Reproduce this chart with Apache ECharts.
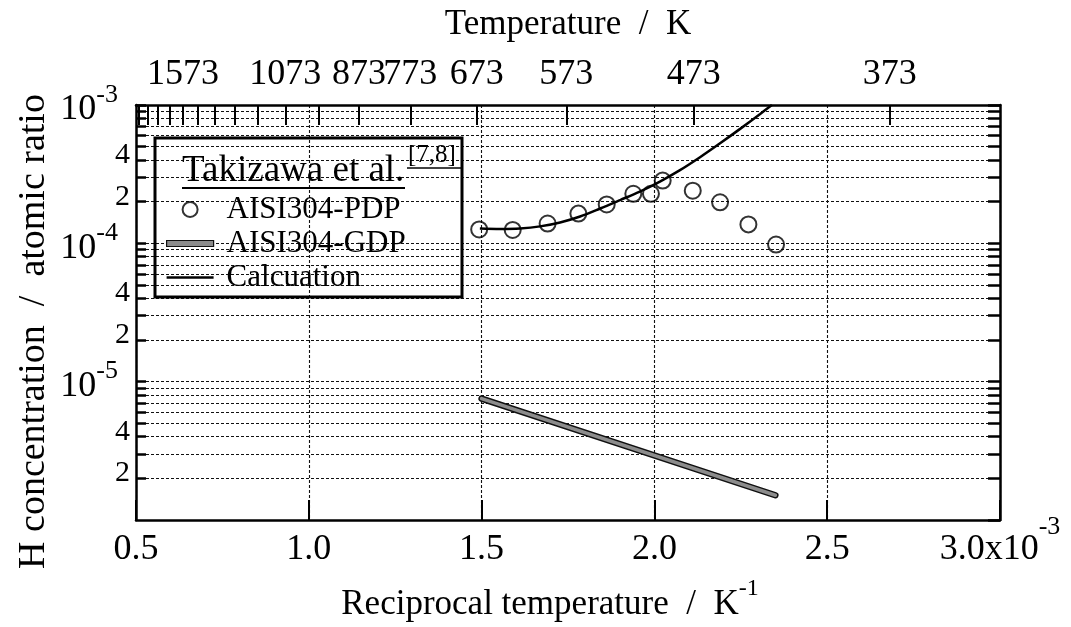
<!DOCTYPE html>
<html>
<head>
<meta charset="utf-8">
<script src="https://cdn.jsdelivr.net/npm/echarts@6/dist/echarts.min.js"></script>
<style>
html, body { margin: 0; padding: 0; background: #fff; }
#chart { width: 1071px; height: 627px; }
</style>
</head>
<body>
<div id="chart"></div>
<script>
// Reciprocal temperature in 10^-3 K^-1, H concentration as atomic ratio
const pdpX = [1.493, 1.590, 1.691, 1.780, 1.862, 1.939, 1.990, 2.024, 2.111, 2.190, 2.272, 2.352];
const pdpY = [1.26e-4, 1.25e-4, 1.39e-4, 1.64e-4, 1.91e-4, 2.28e-4, 2.28e-4, 2.84e-4, 2.40e-4, 1.98e-4, 1.37e-4, 0.98e-4];

const gdpX = [1.50, 2.35];
const gdpY = [7.55e-6, 1.51e-6];

const calcX = [1.495, 1.553, 1.611, 1.669, 1.727, 1.785, 1.843, 1.901, 1.958, 2.016, 2.074, 2.132, 2.190, 2.248, 2.306, 2.340];
const calcY = [1.282e-4, 1.272e-4, 1.282e-4, 1.326e-4, 1.416e-4, 1.564e-4, 1.786e-4, 2.056e-4, 2.366e-4, 2.793e-4, 3.379e-4, 4.191e-4, 5.284e-4, 6.721e-4, 8.617e-4, 1.0e-3];

// bottom axis ticks (10^-3 K^-1)
const recipTicks = [0.5, 1.0, 1.5, 2.0, 2.5, 3.0];
// top axis: temperatures (K) with tick marks, and the labelled ones
const tempTicks = [1973, 1873, 1773, 1673, 1573, 1473, 1373, 1273, 1173, 1073, 973, 873, 773, 673, 573, 473, 373];
const tempLabels = [1573, 1073, 873, 773, 673, 573, 473, 373];
// left axis: decades and mantissas for ticks / grid, labelled values
const decades = [-6, -5, -4];
const mantissas = [1, 2, 3, 4, 5, 6, 7, 8, 9];
const concLabels = [1e-6, 2e-6, 4e-6, 1e-5, 2e-5, 4e-5, 1e-4, 2e-4, 4e-4, 1e-3];

const FONT = '"Liberation Serif", "DejaVu Serif", serif';

const pairs = (xs, ys) => xs.map((x, i) => [x, ys[i]]);
const log10 = v => Math.log10(v);

const concTicks = [];
decades.forEach(d => mantissas.forEach(m => concTicks.push(log10(m * Math.pow(10, d)))));
concTicks.push(-3);

const chart = echarts.init(document.getElementById('chart'), null, { renderer: 'canvas' });

const axisLineStyle = { color: '#000', width: 2.5 };
const gridDash = { color: '#111', width: 1.1, type: [3, 2] };

chart.setOption({
  animation: false,
  backgroundColor: '#fff',
  textStyle: { fontFamily: FONT, color: '#000' },
  grid: { left: 136, right: 71, top: 105, bottom: 105, containLabel: false },
  xAxis: [
    {
      type: 'value', position: 'bottom', min: 0.5, max: 3.0, interval: 0.5,
      axisLine: { show: true, onZero: false, lineStyle: axisLineStyle },
      axisTick: { show: true, inside: true, length: 20, lineStyle: { color: '#000', width: 2 } },
      splitLine: { show: true, lineStyle: gridDash },
      axisLabel: {
        margin: 3,
        formatter: v => {
          const i = recipTicks.findIndex(t => Math.abs(t - v) < 1e-9);
          const txt = recipTicks[i].toFixed(1);
          return i === recipTicks.length - 1 ? '{n|' + txt + 'x10}{s|-3}' : '{n|' + txt + '}';
        },
        rich: {
          n: { fontFamily: FONT, fontSize: 36, lineHeight: 36, color: '#000', padding: [17, 0, 0, 0] },
          s: { fontFamily: FONT, fontSize: 26, lineHeight: 26, color: '#000', padding: [0, 0, 27, 0] }
        }
      },
      name: '{a|Reciprocal temperature  /  K}{s|-1}',
      nameLocation: 'middle', nameGap: 62,
      nameTextStyle: {
        rich: {
          a: { fontFamily: FONT, fontSize: 35, lineHeight: 35, color: '#000', padding: [10, 0, 0, 0] },
          s: { fontFamily: FONT, fontSize: 24, lineHeight: 24, color: '#000', padding: [0, 36, 21, 0] }
        }
      }
    },
    {
      type: 'value', position: 'top', min: 0.5, max: 3.0,
      axisLine: { show: true, onZero: false, lineStyle: axisLineStyle },
      axisTick: {
        show: true, inside: true, length: 20, lineStyle: { color: '#000', width: 2 },
        customValues: tempTicks.map(T => 1000 / T)
      },
      splitLine: { show: false },
      axisLabel: {
        margin: 12, fontFamily: FONT, fontSize: 36, color: '#000',
        customValues: tempLabels.map(T => 1000 / T),
        formatter: v => String(Math.round(1000 / v))
      },
      name: 'Temperature  /  K',
      nameLocation: 'middle', nameGap: 63,
      nameTextStyle: { fontFamily: FONT, fontSize: 35, color: '#000' }
    }
  ],
  yAxis: [
    {
      // data axis (logarithmic), draws the left frame line
      type: 'log', logBase: 10, min: 1e-6, max: 1e-3, position: 'left',
      axisLine: { show: true, onZero: false, lineStyle: axisLineStyle },
      axisTick: { show: false },
      axisLabel: { show: false },
      splitLine: { show: false },
      minorTick: { show: false },
      name: 'H concentration  /  atomic ratio',
      nameLocation: 'middle', nameGap: 83,
      nameTextStyle: { fontFamily: FONT, fontSize: 38, color: '#000', padding: [0, 38, 0, 0] }
    },
    {
      // decade/mantissa ticks, labels and horizontal grid on the left
      type: 'value', min: -6, max: -3, position: 'left',
      axisLine: { show: false },
      axisTick: {
        show: true, inside: true, length: 10, lineStyle: { color: '#000', width: 2.5 },
        customValues: concTicks
      },
      splitLine: { show: true, lineStyle: gridDash },
      axisLabel: {
        margin: 6,
        customValues: concLabels.map(log10),
        formatter: v => {
          const e = Math.round(v);
          if (Math.abs(v - e) < 1e-6) return '{n|10}{s|' + e + '}';
          const m = Math.round(Math.pow(10, v - Math.floor(v)));
          return '{m|' + m + '}';
        },
        rich: {
          n: { fontFamily: FONT, fontSize: 36, lineHeight: 36, color: '#000', padding: [10, 0, 0, 0] },
          s: { fontFamily: FONT, fontSize: 26, lineHeight: 26, color: '#000', padding: [0, 12, 20, 0] },
          m: { fontFamily: FONT, fontSize: 30, lineHeight: 30, color: '#000', padding: [0, 0, 10, 0] }
        }
      }
    },
    {
      // right frame with the same tick marks
      type: 'value', min: -6, max: -3, position: 'right',
      axisLine: { show: true, onZero: false, lineStyle: axisLineStyle },
      axisTick: {
        show: true, inside: true, length: 12, lineStyle: { color: '#000', width: 2.5 },
        customValues: concTicks
      },
      splitLine: { show: false },
      axisLabel: { show: false }
    }
  ],
  legend: {
    orient: 'vertical', left: 166, top: 194, padding: 0,
    itemWidth: 47, itemHeight: 15, itemGap: 3,
    selectedMode: false,
    textStyle: { fontFamily: FONT, fontSize: 31, color: '#000', lineHeight: 30, padding: [0, 0, 0, 8] },
    data: [
      { name: 'AISI304-PDP', icon: 'circle' },
      { name: 'AISI304-GDP', icon: 'path://M0 0H47V6H0Z', itemStyle: { color: '#8c8c8c', borderColor: '#111', borderWidth: 1.2 } },
      { name: 'Calcuation', icon: 'path://M0 0H47V2.5H0Z', itemStyle: { color: '#000', borderWidth: 0 } }
    ]
  },
  graphic: [
    { type: 'rect', z: 100, shape: { x: 155, y: 138, width: 307, height: 159 },
      style: { fill: 'none', stroke: '#000', lineWidth: 3 } },
    { type: 'text', z: 100, x: 182, y: 171,
      style: { text: 'Takizawa et al.', font: '37px "Liberation Serif"', fill: '#000', verticalAlign: 'middle' } },
    { type: 'line', z: 100, shape: { x1: 182, y1: 188, x2: 405, y2: 188 }, style: { stroke: '#000', lineWidth: 2 } },
    { type: 'text', z: 100, x: 408, y: 155,
      style: { text: '[7,8]', font: '25px "Liberation Serif"', fill: '#000', verticalAlign: 'middle' } },
    { type: 'line', z: 100, shape: { x1: 407, y1: 168, x2: 461, y2: 168 }, style: { stroke: '#000', lineWidth: 1.5 } }
  ],
  series: [
    {
      name: 'gdpEdge', type: 'line', xAxisIndex: 0, yAxisIndex: 0,
      data: pairs(gdpX, gdpY), showSymbol: false, symbol: 'none', silent: true, z: 3,
      lineStyle: { color: '#111', width: 6.5, cap: 'round' }
    },
    {
      name: 'AISI304-GDP', type: 'line', xAxisIndex: 0, yAxisIndex: 0,
      data: pairs(gdpX, gdpY), showSymbol: false, symbol: 'none', z: 4,
      itemStyle: { color: '#8c8c8c' },
      lineStyle: { color: '#8c8c8c', width: 3.5, cap: 'round' }
    },
    {
      name: 'Calcuation', type: 'line', xAxisIndex: 0, yAxisIndex: 0,
      data: pairs(calcX, calcY), showSymbol: false, symbol: 'none',
      smooth: 0.3, z: 5,
      itemStyle: { color: '#000' },
      lineStyle: { color: '#000', width: 2.5 }
    },
    {
      name: 'AISI304-PDP', type: 'scatter', xAxisIndex: 0, yAxisIndex: 0,
      data: pairs(pdpX, pdpY), symbol: 'circle', symbolSize: 16, z: 6,
      itemStyle: { color: 'rgba(255,255,255,0)', borderColor: '#000', borderWidth: 2 }
    }
  ]
});
</script>
</body>
</html>
